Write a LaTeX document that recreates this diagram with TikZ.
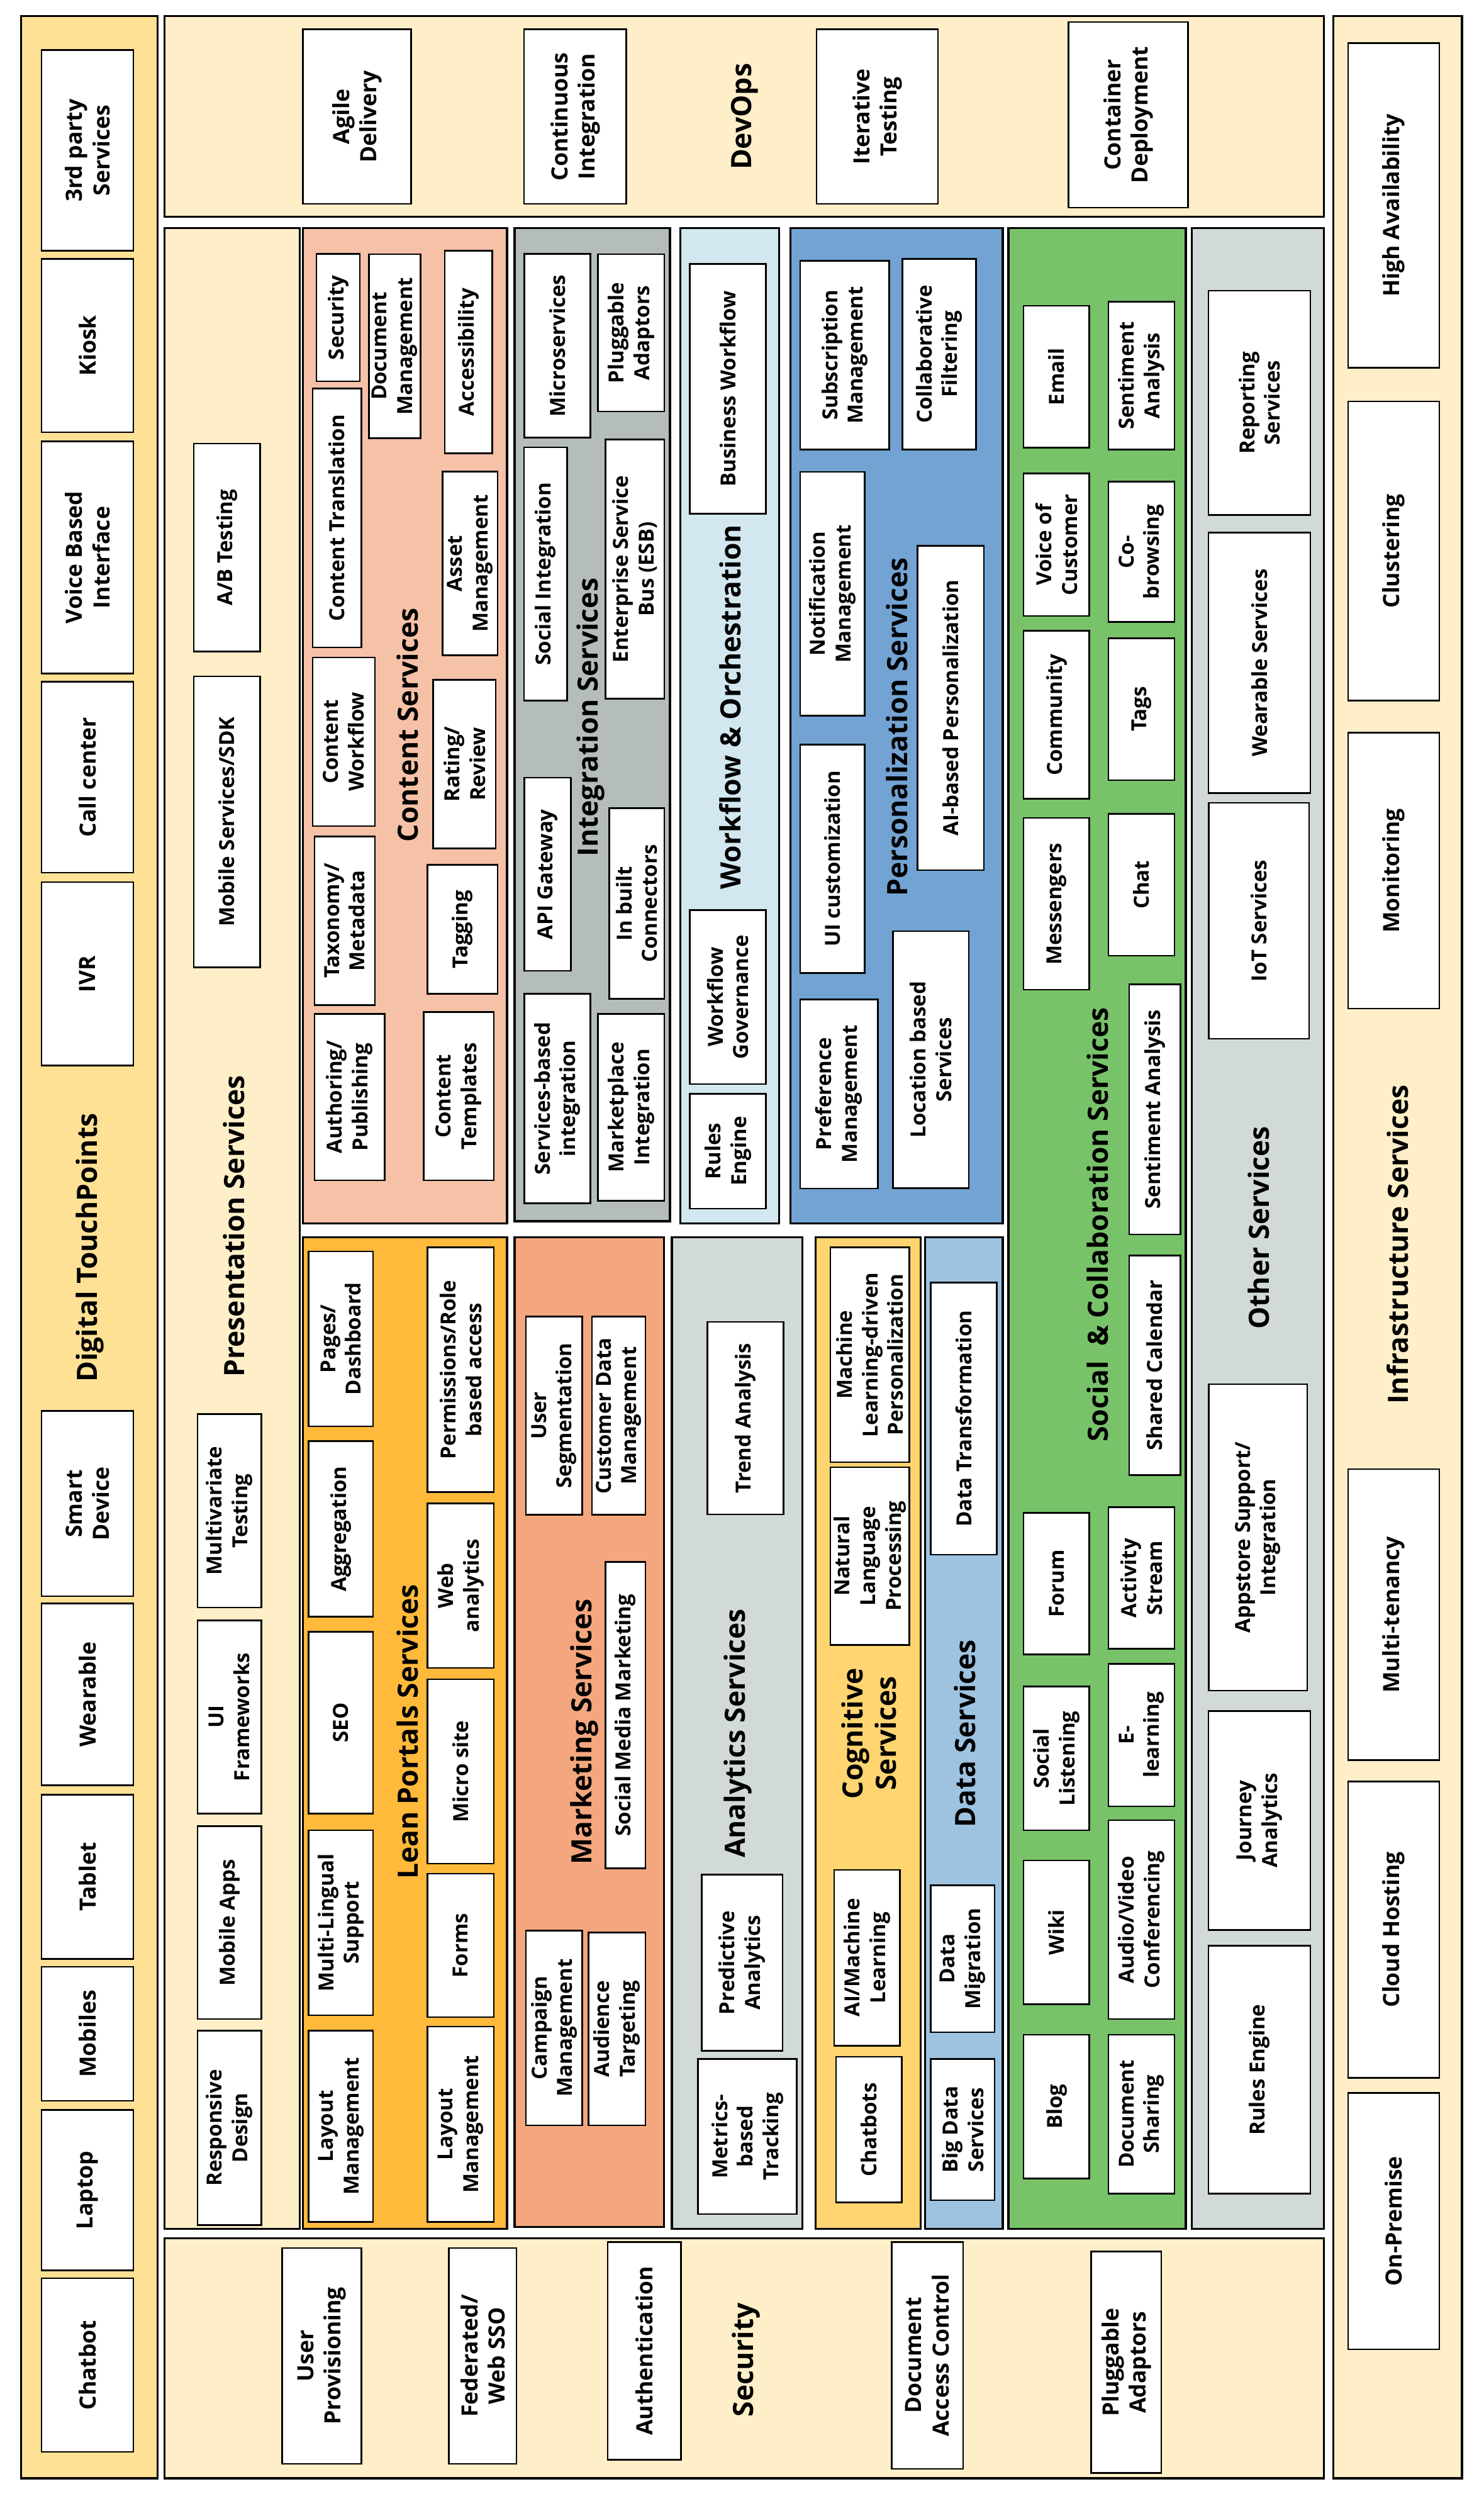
\documentclass[tikz,border=0pt]{standalone}
\usepackage{fontspec}
\setmainfont{Open Sans}

\definecolor{touchfill}{HTML}{FFE195}
\definecolor{creamfill}{HTML}{FFEFC8}
\definecolor{contentfill}{HTML}{F5C2A8}
\definecolor{integfill}{HTML}{B4BDBC}
\definecolor{flowfill}{HTML}{D2E7EF}
\definecolor{persfill}{HTML}{72A3D3}
\definecolor{socialfill}{HTML}{78C369}
\definecolor{otherfill}{HTML}{D2D9D9}
\definecolor{leanfill}{HTML}{FFB93B}
\definecolor{mktfill}{HTML}{F4A77E}
\definecolor{cogfill}{HTML}{FFD571}
\definecolor{datafill}{HTML}{9DC3E1}

\tikzset{
  area/.style={draw=black,line width=1.3pt},
  svc/.style={draw=black,fill=white,line width=1pt,rotate=90,align=center,inner sep=1pt,
    font=\bfseries\fontsize{13}{16}\selectfont},
  bigsvc/.style={svc,font=\bfseries\fontsize{14}{17}\selectfont},
  hdr/.style={rotate=90,align=center,inner sep=0pt,font=\bfseries\fontsize{17.5}{20.5}\selectfont}
}

\begin{document}
\begin{tikzpicture}[x=1pt,y=-1pt]

\useasboundingbox (0,0) rectangle (929,1568.6);
\fill[white] (0,0) rectangle (929,1568.6);

% Digital TouchPoints
\filldraw[area,fill=touchfill] (13.3,10) rectangle (98.7,1551.2);
\node[hdr] (lblTouch) at (56.3,781) {Digital TouchPoints};
\foreach \nm/\cy/\h/\txt in {third/94.2/125.6/{3rd party\\Services},
  kiosk/216.3/108.5/Kiosk, voice/348.9/145.2/{Voice Based\\Interface},
  callcenter/486.4/119.5/{Call center}, ivr/609.6/114.8/IVR,
  smartdev/941.2/116/{Smart\\Device}, wearable/1060.6/113.8/Wearable,
  tablet/1174.7/102.7/Tablet, mobiles/1273/83.9/Mobiles,
  laptop/1370.9/100.5/Laptop, chatbot/1480.4/108.7/Chatbot}
{
\node[bigsvc,minimum width=\h,minimum height=57.5] (\nm) at (54.8,\cy) {\txt};
}

% DevOps
\filldraw[area,fill=creamfill] (103.1,10) rectangle (828.7,135.6);
\node[hdr] (lblDevOps) at (466,73) {DevOps};
\foreach \nm/\cx/\cy/\w/\h/\txt in {agile/223.5/73/67.6/109.3/{Agile\\Delivery},
  contint/360.1/73/64/109.3/{Continuous\\Integration},
  itertest/549.2/73/75.9/109.3/{Iterative\\Testing},
  container/706.3/71.9/74.7/116.1/{Container\\Deployment}}
{
\node[bigsvc,minimum width=\h,minimum height=\w] (\nm) at (\cx,\cy) {\txt};
}

% Infrastructure Services
\filldraw[area,fill=creamfill] (834.6,10) rectangle (915.2,1551.2);
\node[hdr] (lblInfra) at (875,779) {Infrastructure Services};
\foreach \nm/\cy/\h/\txt in {highavail/128.5/203.2/{High Availability},
  clustering/344.9/187.4/Clustering, monitoring/545/172.6/Monitoring,
  multitenancy/1010.7/182.1/Multi-tenancy, cloudhost/1207.8/185.6/{Cloud Hosting},
  onpremise/1390.3/160.5/On-Premise}
{
\node[bigsvc,minimum width=\h,minimum height=57] (\nm) at (872.5,\cy) {\txt};
}

% Presentation Services
\filldraw[area,fill=creamfill] (103.1,142.7) rectangle (187.6,1395.2);
\node[hdr] (lblPres) at (146.4,767.6) {Presentation Services};
\foreach \nm/\cx/\cy/\w/\h/\txt in {abtest/142/342.7/41.5/130.1/{A/B Testing},
  mobsdk/142/514.4/41.5/182.1/{Mobile Services/SDK},
  multivar/143.6/945.7/40/121/{Multivariate\\Testing},
  uifw/143.6/1074.7/40/120.8/{UI\\Frameworks},
  mobapps/143.6/1203.5/40/120.7/{Mobile Apps},
  respdesign/143.6/1331.9/40/121.7/{Responsive\\Design}}
{
\node[svc,minimum width=\h,minimum height=\w] (\nm) at (\cx,\cy) {\txt};
}

% Content Services
\filldraw[area,fill=contentfill] (189.7,142.7) rectangle (317.4,765.7);
\node[hdr] (lblContent) at (255,453.8) {Content Services};
\foreach \nm/\cx/\cy/\w/\h/\txt in {csecurity/211.7/198.8/27.3/79.6/Security,
  docmgmt/247.1/216.7/32.3/115.3/{Document\\Management},
  accessib/293.3/220.4/29.9/126.8/Accessibility,
  ctrans/210.9/324.2/30.5/162/{Content Translation},
  assetmgmt/294.3/352.7/34.4/115/{Asset\\Management},
  cworkflow/215.2/464.3/39.1/105.5/{Content\\Workflow},
  taxonomy/215.8/576.3/37.9/105.5/{Taxonomy/\\Metadata},
  authoring/218.8/686.7/43.9/104.3/{Authoring/\\Publishing},
  rating/290.8/478.3/39.1/105.6/{Rating/\\Review},
  tagging/289.6/581.7/43.9/80.7/Tagging,
  ctemplates/287.2/686.2/43.8/105.3/{Content\\Templates}}
{
\node[svc,minimum width=\h,minimum height=\w] (\nm) at (\cx,\cy) {\txt};
}

% Integration Services
\filldraw[area,fill=integfill] (322.2,142.7) rectangle (419.4,764.4);
\node[hdr] (lblInteg) at (369.6,449) {Integration Services};
\foreach \nm/\cx/\cy/\w/\h/\txt in {microsvc/348.9/216.4/41.5/114.8/Microservices,
  ipluggable/395.1/208.3/41.5/98.5/{Pluggable\\Adaptors},
  socinteg/341.6/359.3/27/158.6/{Social Integration},
  esb/397.5/356.2/36.7/162.4/{Enterprise Service\\Bus (ESB)},
  apigw/342.8/547.3/29.3/120.9/{API Gateway},
  inbuilt/398.6/565.6/34.4/119.3/{In built\\Connectors},
  svcbased/348.9/687.6/41.5/131.1/{Services-based\\integration},
  marketplace/395.1/693.1/41.5/117.1/{Marketplace\\Integration}}
{
\node[svc,minimum width=\h,minimum height=\w] (\nm) at (\cx,\cy) {\txt};
}

% Workflow & Orchestration
\filldraw[area,fill=flowfill] (425.9,142.7) rectangle (487.8,765.7);
\node[hdr] (lblWorkflow) at (457,442.5) {Workflow \& Orchestration};
\foreach \nm/\cy/\h/\txt in {bizwf/243.4/156.2/{Business Workflow},
  wfgov/624.1/108.8/{Workflow\\Governance},
  wfrules/720.5/71.9/{Rules\\Engine}}
{
\node[svc,minimum width=\h,minimum height=47.7] (\nm) at (455.7,\cy) {\txt};
}

% Personalization Services
\filldraw[area,fill=persfill] (494.9,142.7) rectangle (627.7,765.7);
\node[hdr] (lblPers) at (561.5,455) {Personalization Services};
\foreach \nm/\cx/\cy/\w/\h/\txt in {subscr/528.8/222.3/55.7/118/{Subscription\\Management},
  collab/588/221.7/46.2/119.3/{Collaborative\\Filtering},
  notif/521.1/371.7/40.3/152.5/{Notification\\Management},
  aipers/595.2/443.1/41.5/203/{AI-based Personalization},
  uicust/521.1/537.5/40.3/142.9/{UI customization},
  prefmgmt/525.2/684.7/48.6/118.3/{Preference\\Management},
  locbased/582.7/663.3/47.4/161/{Location based\\Services}}
{
\node[svc,minimum width=\h,minimum height=\w] (\nm) at (\cx,\cy) {\txt};
}

% Social & Collaboration Services
\filldraw[area,fill=socialfill] (631.3,142.7) rectangle (742.4,1395.2);
\node[hdr] (lblSocial) at (687,766.6) {Social\ \ \& Collaboration Services};
\foreach \nm/\cx/\cy/\w/\h/\txt in {email/661.4/235.8/41.2/88.7/Email,
  sentiment/714.6/235.1/41.5/92.4/{Sentiment\\Analysis},
  voc/661.4/341/41.2/89.2/{Voice of\\Customer},
  cobrowse/714.6/345.4/41.5/87.9/{Co-\\browsing},
  community/661.4/447.4/41.2/105/Community,
  tags/714.6/443.9/41.5/88.9/Tags,
  messengers/661.4/565.8/41.2/107.5/Messengers,
  chat/714.6/553.8/41.5/88.7/Chat,
  sentimentlong/722.9/694.4/32.1/156.7/{Sentiment Analysis},
  sharedcal/722.9/854.6/32.1/137.5/{Shared Calendar},
  forum/661.4/991.3/41.2/88.6/Forum,
  activity/714.6/987.7/41.5/88.5/{Activity\\Stream},
  soclisten/661.4/1100.7/41.2/90/{Social\\Listening},
  elearn/714.6/1086/41.5/89.2/{E-\\learning},
  wiki/661.4/1209.5/41.2/89.9/Wiki,
  audiovideo/714.6/1201.6/41.5/124.4/{Audio/Video\\Conferencing},
  blog/661.4/1318.6/41.2/90.1/Blog,
  docshare/714.6/1323.3/41.5/99.5/{Document\\Sharing}}
{
\node[svc,minimum width=\h,minimum height=\w] (\nm) at (\cx,\cy) {\txt};
}

% Other Services
\filldraw[area,fill=otherfill] (746,142.7) rectangle (828.7,1395.2);
\node[hdr] (lblOther) at (787.8,768.5) {Other Services};
\foreach \nm/\cx/\cy/\w/\h/\txt in {reporting/788.5/252.1/63.8/140.4/{Reporting\\Services},
  wearsvc/788.5/414.9/63.8/163.1/{Wearable Services},
  iot/788.1/576.3/62.9/147.7/{IoT Services},
  appstore/787.5/962.3/61.7/191.9/{Appstore Support/\\Integration},
  journey/788.5/1139.5/63.8/137/{Journey\\Analytics},
  orules/788.5/1295.5/63.8/155.1/{Rules Engine}}
{
\node[svc,minimum width=\h,minimum height=\w] (\nm) at (\cx,\cy) {\txt};
}

% Lean Portals Services
\filldraw[area,fill=leanfill] (189.7,774.5) rectangle (317.4,1395.2);
\node[hdr] (lblLean) at (255,1084) {Lean Portals Services};
\foreach \nm/\cx/\cy/\w/\h/\txt in {pages/213.4/838/40.3/109.5/{Pages/\\Dashboard},
  aggreg/213.4/957/40.3/110/Aggregation,
  seo/213.4/1078.2/40.3/113.8/SEO,
  multiling/213.4/1203.5/40.3/115.8/{Multi-Lingual\\Support},
  layoutA/213.4/1330.9/40.3/119.7/{Layout\\Management},
  perms/288.4/857.3/41.5/153.2/{Permissions/Role\\based access},
  webanal/288.4/992.5/41.5/103/{Web\\analytics},
  microsite/288.4/1108.8/41.5/115.5/{Micro site},
  forms/288.4/1217.7/41.5/89.8/Forms,
  layoutB/288.4/1329.6/41.5/122.2/{Layout\\Management}}
{
\node[svc,minimum width=\h,minimum height=\w] (\nm) at (\cx,\cy) {\txt};
}

% Marketing Services
\filldraw[area,fill=mktfill] (322.2,774.5) rectangle (415.8,1394);
\node[hdr] (lblMkt) at (366,1084) {Marketing Services};
\foreach \nm/\cx/\cy/\w/\h/\txt in {userseg/346.9/886.1/35.2/123.9/{User\\Segmentation},
  custdata/387.3/886.1/33.5/123.9/{Customer Data\\Management},
  socmedia/391.6/1073.6/24.9/191.9/{Social Media Marketing},
  campaign/346.9/1269.3/35.2/121.9/{Campaign\\Management},
  audience/386.2/1269.9/35.6/120.7/{Audience\\Targeting}}
{
\node[svc,minimum width=\h,minimum height=\w] (\nm) at (\cx,\cy) {\txt};
}

% Analytics Services
\filldraw[area,fill=otherfill] (420.6,774.5) rectangle (502.3,1395.2);
\node[hdr] (lblAnalytics) at (462,1085) {Analytics Services};
\foreach \nm/\cx/\cy/\w/\h/\txt in {trend/466.7/887.7/47.7/120.6/{Trend Analysis},
  predictive/464.6/1228.5/50.8/110.3/{Predictive\\Analytics},
  metrics/467.9/1337.3/61.9/97/{Metrics-\\based\\Tracking}}
{
\node[svc,minimum width=\h,minimum height=\w] (\nm) at (\cx,\cy) {\txt};
}

% Cognitive Services
\filldraw[area,fill=cogfill] (510.6,774.5) rectangle (576.4,1395.2);
\node[hdr] (lblCog) at (544,1085) {Cognitive\\Services};
\foreach \nm/\cx/\cy/\w/\h/\txt in {mlpers/544.6/848/49.5/134.6/{Machine\\Learning-driven\\Personalization},
  nlp/544.6/974/49.5/111.3/{Natural\\Language\\Processing},
  aiml/542.8/1225.4/41.2/110.1/{AI/Machine\\Learning},
  chatbots/544/1333/41.2/91.3/Chatbots}
{
\node[svc,minimum width=\h,minimum height=\w] (\nm) at (\cx,\cy) {\txt};
}

% Data Services
\filldraw[area,fill=datafill] (579.1,774.5) rectangle (627.7,1395.2);
\node[hdr] (lblData) at (604,1085) {Data Services};
\foreach \nm/\cx/\cy/\w/\h/\txt in {datatrans/603.3/888/41.2/170.3/{Data Transformation},
  datamig/602.7/1226/40/92/{Data\\Migration},
  bigdata/602.7/1333/40/88.4/{Big Data\\Services}}
{
\node[svc,minimum width=\h,minimum height=\w] (\nm) at (\cx,\cy) {\txt};
}

% Security
\filldraw[area,fill=creamfill] (103.1,1400.9) rectangle (828.7,1551.2);
\node[hdr] (lblSecurity) at (467,1477) {Security};
\foreach \nm/\cx/\cy/\w/\h/\txt in {userprov/201.4/1474.6/49.5/135.1/{User\\Provisioning},
  fedsso/302.2/1474.6/42.4/135.1/{Federated/\\Web SSO},
  authn/403.3/1471.5/45.9/136.3/Authentication,
  docaccess/580.5/1474.3/44.7/142/{Document\\Access Control},
  spluggable/705.1/1478.6/43.9/138.5/{Pluggable\\Adaptors}}
{
\node[bigsvc,minimum width=\h,minimum height=\w] (\nm) at (\cx,\cy) {\txt};
}

\end{tikzpicture}
\end{document}
